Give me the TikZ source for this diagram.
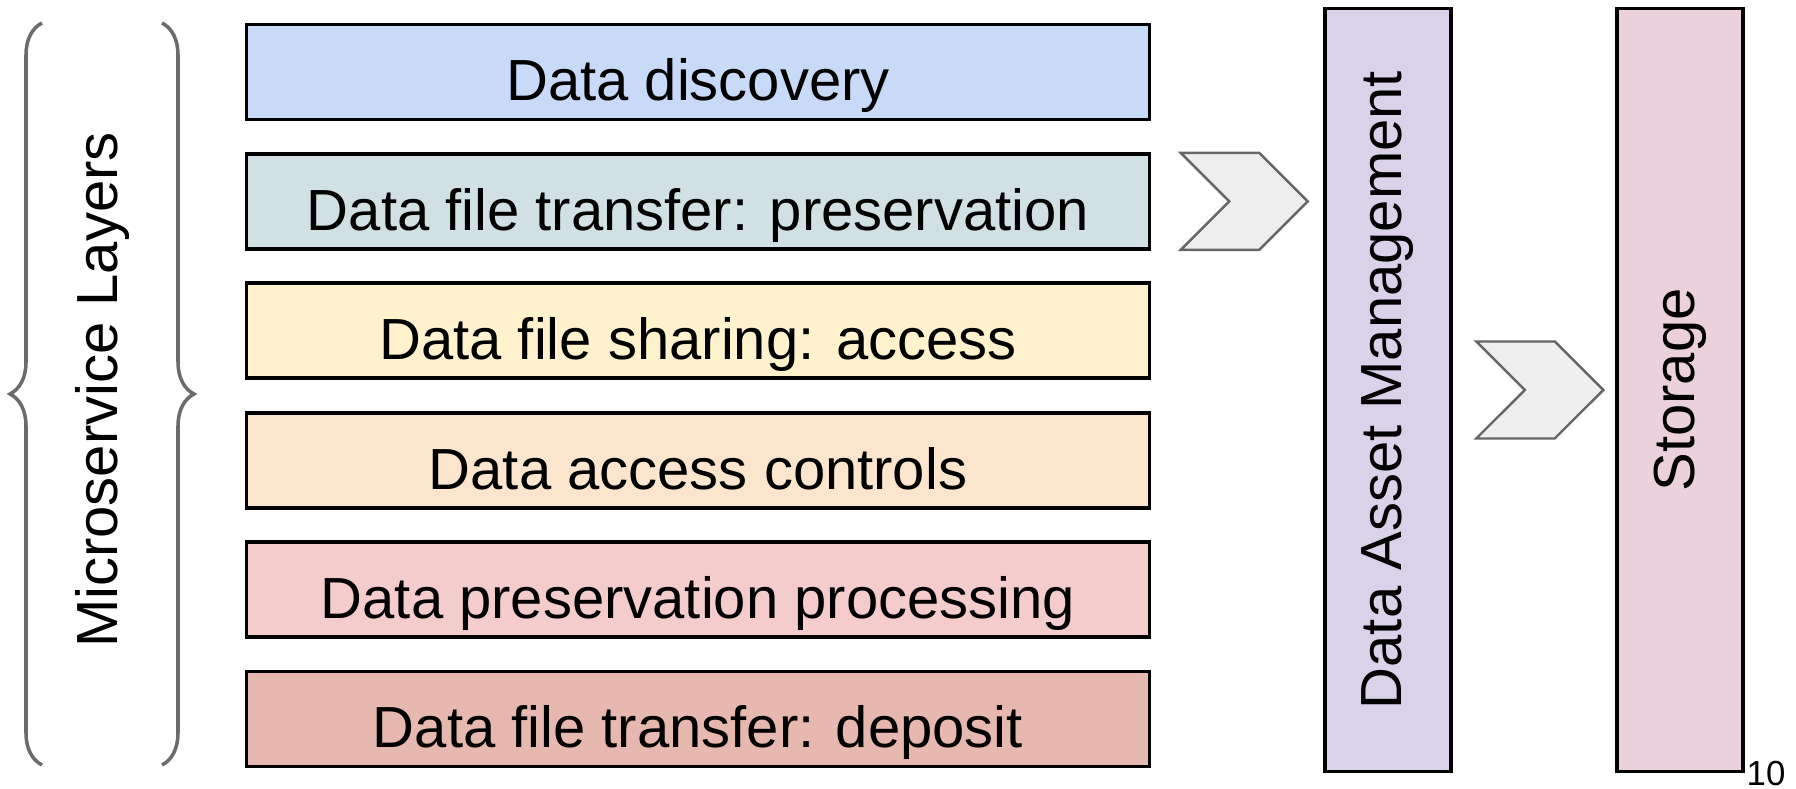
\documentclass[tikz,border=0pt]{standalone}
\usepackage{fontspec}
\setmainfont{Liberation Sans}
\usepackage{xcolor}
\usepackage{tikz}
\usetikzlibrary{positioning,shapes.symbols,decorations.pathreplacing}

\definecolor{discoverBlue}{HTML}{C9DAF8}
\definecolor{transferCyan}{HTML}{D0E0E3}
\definecolor{sharingYellow}{HTML}{FFF2CC}
\definecolor{accessOrange}{HTML}{FCE5CD}
\definecolor{processRed}{HTML}{F4CCCC}
\definecolor{depositRed}{HTML}{E6B8AF}
\definecolor{assetPurple}{HTML}{D9D2E9}
\definecolor{storagePink}{HTML}{EAD1DC}
\definecolor{chevronFill}{HTML}{EEEEEE}
\definecolor{chevronGray}{HTML}{666666}
\definecolor{braceGray}{HTML}{6B6B6B}

\begin{document}
\begin{tikzpicture}[
    node distance=0.344cm,
    layer/.style={
      rectangle,
      draw,
      line width=1.1pt,
      minimum width=9.03cm,
      minimum height=0.95cm,
      inner sep=0pt,
      outer sep=0pt,
      text height=19.8pt,
      text depth=3.3pt,
      font=\fontsize{16.5}{20}\selectfont
    },
    column/.style={
      rectangle,
      draw,
      rotate=90,
      line width=1.1pt,
      minimum width=7.63cm,
      minimum height=1.26cm,
      inner sep=0pt,
      outer sep=0pt,
      font=\fontsize{16.5}{20}\selectfont
    },
    chevron/.style={
      signal,
      signal from=west,
      signal to=east,
      signal pointer angle=90,
      draw=chevronGray,
      fill=chevronFill,
      line width=0.7pt,
      minimum width=1.27cm,
      minimum height=0.97cm,
      inner sep=0pt
    },
    bracket/.style={
      draw=braceGray,
      line width=1pt,
      decorate,
      decoration={brace, amplitude=0.32cm}
    }
]
    \useasboundingbox (0,0) rectangle (17.96,-7.89);

    % Nodes
    \node [layer, fill=discoverBlue] (discovery) at (6.98,-0.72) {Data discovery};
    \node [layer, fill=transferCyan, below=of discovery] (preserve) {Data file transfer: preservation};
    \node [layer, fill=sharingYellow, below=of preserve] (sharing) {Data file sharing: access};
    \node [layer, fill=accessOrange, below=of sharing] (controls) {Data access controls};
    \node [layer, fill=processRed, below=of controls] (processing) {Data preservation processing};
    \node [layer, fill=depositRed, below=of processing] (deposit) {Data file transfer: deposit};

    \node [column, fill=assetPurple] (assets) at (13.88,-3.90) {Data Asset Management};
    \node [column, fill=storagePink] (storage) at (16.80,-3.90) {Storage};

    \node [chevron, right=0.78cm of preserve] (toassets) {};
    \node [chevron, right=0.72cm of assets.south] (tostorage) {};

    % Brackets
    \node [rotate=90, font=\fontsize{16.5}{20}\selectfont] (layers) at (1.03,-3.90) {Microservice Layers};
    \coordinate (leftTop) at (0.42,-0.23);
    \coordinate (leftBottom) at (0.42,-7.65);
    \coordinate (rightTop) at (1.62,-0.23);
    \coordinate (rightBottom) at (1.62,-7.65);
    \path [bracket] (leftBottom) -- (leftTop);
    \path [bracket] (rightTop) -- (rightBottom);

    \node [anchor=base west, inner sep=0pt, font=\fontsize{9.9}{12}\selectfont] (pagenum) at (17.46,-7.85) {10};

\end{tikzpicture}
\end{document}
